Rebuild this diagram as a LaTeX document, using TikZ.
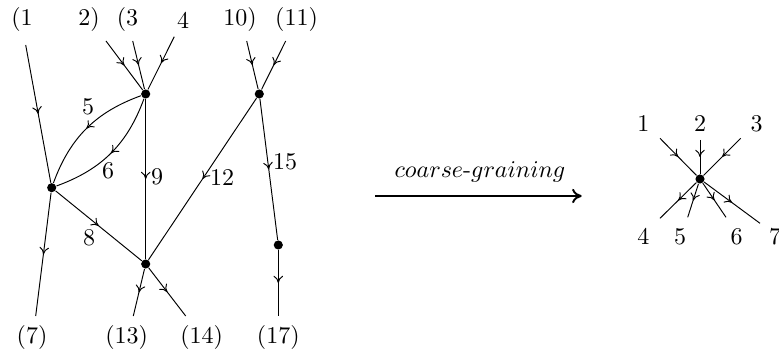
\documentclass[tikz,border=0pt]{standalone}
\usepackage{tikz}
\usetikzlibrary{arrows.meta, decorations.markings}
\tikzset{
  dot/.style={circle, fill=black, inner sep=0pt, minimum size=3.8pt},
  midarrow/.style={postaction={decorate},
    decoration={markings, mark=at position 0.5 with {\arrow{To[length=3pt,width=4pt]}}}},
  lbl/.style={inner sep=0pt}
}
\begin{document}
\begin{tikzpicture}[x=0.4167pt, y=-0.4167pt]
  \useasboundingbox (0,0) rectangle (779,358);
  % vertices
  \node[dot] (A) at (145.7,94) {};
  \node[dot] (B) at (259.3,94) {};
  \node[dot] (C) at (51.7,187.7) {};
  \node[dot] (D) at (145.7,264) {};
  \node[dot] (E) at (278.3,245) {};
  % external ends
  \coordinate (e1) at (25.7,45);   \coordinate (e2) at (106,41);
  \coordinate (e3) at (132.7,41);  \coordinate (e4) at (174.3,36.7);
  \coordinate (e10) at (246.7,41); \coordinate (e11) at (285.7,41);
  \coordinate (e7) at (35.7,316);  \coordinate (e13) at (133.3,316);
  \coordinate (e14) at (185.7,316); \coordinate (e17) at (278.3,316);
  % lines
  \foreach \a/\b in {e1/C, e2/A, e3/A, e4/A, e10/B, e11/B, A/D, B/D, B/E, C/D, C/e7, D/e13, D/e14, E/e17}
    \draw[midarrow] (\a) -- (\b);
  \draw[midarrow] (A) to[bend right=25] (C);
  \draw[midarrow] (A) to[bend left=25] (C);
  % labels
  \node[lbl] (l1) at (22,20) {(1};
  \node[lbl] (l2) at (89,20) {2)};
  \node[lbl] (l3) at (127.5,20) {(3};
  \node[lbl] (l4) at (183,20) {4};
  \node[lbl] (l10) at (240,20) {10)};
  \node[lbl] (l11) at (296.5,20) {(11)};
  \node[lbl] (l5) at (88,107) {5};
  \node[lbl] (l6) at (108,171) {6};
  \node[lbl] (l9) at (157,177) {9};
  \node[lbl] (l12) at (222,178) {12};
  \node[lbl] (l15) at (285,162) {15};
  \node[lbl] (l8) at (89,238) {8};
  \node[lbl] (l7) at (32,338) {(7)};
  \node[lbl] (l13) at (126.7,338) {(13)};
  \node[lbl] (l14) at (201.7,338) {(14)};
  \node[lbl] (l17) at (278.3,338) {(17)};
  % coarse-graining arrow
  \coordinate (cgL) at (375,196);
  \coordinate (cgR) at (581.7,196);
  \draw[thick, -{To[length=4pt,width=6pt]}] (cgL) -- (cgR);
  \node[lbl] (cg) at (480,171.7) {$coarse\mbox{-}graining$};
  % effective vertex
  \node[dot] (S) at (700,179) {};
  \coordinate (s1) at (660,138.3); \coordinate (s2) at (700,140);
  \coordinate (s3) at (740.7,138.3); \coordinate (s4) at (660,218.3);
  \coordinate (s5) at (687.7,217.3); \coordinate (s6) at (726,217.3);
  \coordinate (s7) at (760,223.3);
  \foreach \p in {s1,s2,s3}
    \draw[midarrow] (\p) -- (S);
  \foreach \p in {s4,s5,s6,s7}
    \draw[midarrow] (S) -- (\p);
  \node[lbl] (t1) at (643.3,123.3) {1};
  \node[lbl] (t2) at (700,123.3) {2};
  \node[lbl] (t3) at (756.7,123.3) {3};
  \node[lbl] (t4) at (643.3,236.7) {4};
  \node[lbl] (t5) at (680,236.7) {5};
  \node[lbl] (t6) at (736.7,236.7) {6};
  \node[lbl] (t7) at (775,236.7) {7};
\end{tikzpicture}
\end{document}
